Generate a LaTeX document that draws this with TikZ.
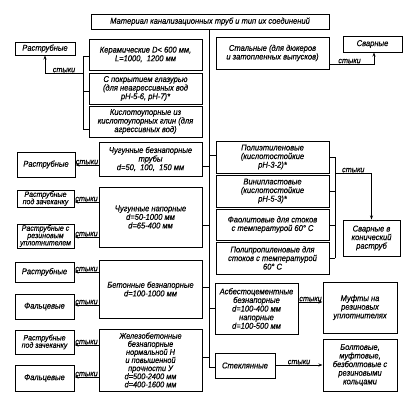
\documentclass[tikz,border=0pt]{standalone}
\usepackage{fontspec}
\setmainfont{Liberation Sans}[FakeStretch=0.9,FakeBold=0.3]
\usetikzlibrary{arrows.meta}
\begin{document}
\begin{tikzpicture}[x=1pt,y=-1pt,
  box/.style={draw, line width=1pt, inner sep=0.3pt, align=center,
    font=\fontsize{8.4}{8.6}\selectfont\itshape},
  tight/.style={font=\fontsize{7.8}{7.3}\selectfont\itshape},
  dense/.style={font=\fontsize{8.2}{8.1}\selectfont\itshape},
  conn/.style={line width=0.8pt},
  arr/.style={line width=0.8pt, -{Stealth[length=4pt,width=3pt]}},
  lbl/.style={font=\fontsize{8}{8}\selectfont\itshape, inner sep=0.3pt, anchor=south}]
\useasboundingbox (0,0) rectangle (409,405);
% nodes
\node[box, minimum width=238pt, minimum height=15pt] (top) at (210,21.5) {Материал канализационных труб и тип их соединений};
\node[box, minimum width=60pt, minimum height=13pt] (rast1) at (45,48.5) {Раструбные};
\node[box, minimum width=113pt, minimum height=31pt] (ker) at (145.5,54.5) {Керамические D< 600 мм,\\L=1000, \ 1200 мм};
\node[box, minimum width=113pt, minimum height=31pt] (pokr) at (145.5,88.5) {С покрытием глазурью\\(для неагрессивных вод\\pH-5-6, pH-7)*};
\node[box, minimum width=113pt, minimum height=31pt] (kisl) at (145.5,121.5) {Кислотоупорные из\\кислотоупорных глин (для\\агрессивных вод)};
\node[box, minimum width=113pt, minimum height=32pt] (stal) at (272.5,53) {Стальные (для дюкеров\\и затопленных выпусков)};
\node[box, minimum width=59pt, minimum height=16pt] (svar1) at (372.5,44) {Сварные};
\node[box, minimum width=103pt, minimum height=34pt] (chb) at (150.5,159) {Чугунные безнапорные\\трубы\\d=50, \ 100, \ 150 мм};
\node[box, minimum width=58pt, minimum height=25pt] (rast2) at (46,164.5) {Раструбные};
\node[box, minimum width=103pt, minimum height=60pt] (chn) at (150.5,217) {Чугунные напорные\\d=50-1000 мм\\d=65-400 мм};
\node[box, tight, minimum width=57pt, minimum height=17pt] (rz1) at (45.5,198.5) {Раструбные\\под зачеканку};
\node[box, tight, minimum width=57pt, minimum height=24pt] (rru) at (45.5,236) {Раструбные с\\резиновым\\уплотнителем};
\node[box, minimum width=103pt, minimum height=58pt] (bet) at (150.5,289) {Бетонные безнапорные\\d=100-1000 мм};
\node[box, minimum width=59pt, minimum height=20pt] (rast3) at (44.5,272) {Раструбные};
\node[box, minimum width=59pt, minimum height=25pt] (falc1) at (44.5,306.5) {Фальцевые};
\node[box, dense, minimum width=103pt, minimum height=62pt] (zhb) at (150.5,360) {Железобетонные\\безнапорные\\нормальной Н\\и повышенной\\прочности У\\d=500-2400 мм\\d=400-1600 мм};
\node[box, tight, minimum width=59pt, minimum height=24pt] (rz2) at (44.5,342) {Раструбные\\под зачеканку};
\node[box, minimum width=59pt, minimum height=26pt] (falc2) at (44.5,378) {Фальцевые};
\node[box, minimum width=113pt, minimum height=32pt] (poly) at (272.5,157) {Полиэтиленовые\\(кислотостойкие\\pH-3-2)*};
\node[box, minimum width=113pt, minimum height=32pt] (vin) at (272.5,191) {Винипластовые\\(кислотостойкие\\pH-5-3)*};
\node[box, minimum width=113pt, minimum height=31pt] (fao) at (272.5,224.5) {Фаолитовые для стоков\\с температурой 60° С};
\node[box, minimum width=113pt, minimum height=32pt] (polip) at (272.5,258) {Полипропиленовые для\\стоков с температурой\\60° С};
\node[box, minimum width=57pt, minimum height=36pt] (svk) at (371.5,238) {Сварные в\\конический\\раструб};
\node[box, minimum width=83pt, minimum height=51pt] (asb) at (256.5,308.5) {Асбестоцементные\\безнапорные\\d=100-400 мм\\напорные\\d=100-500 мм};
\node[box, minimum width=74pt, minimum height=51pt] (muft) at (360,307.5) {Муфты на\\резиновых\\уплотнителях};
\node[box, minimum width=60pt, minimum height=25pt] (stek) at (245,365.5) {Стеклянные};
\node[box, minimum width=74pt, minimum height=52pt] (bolt) at (360,365) {Болтовые,\\муфтовые,\\безболтовые с\\резиновыми\\кольцами};
% coordinates
\coordinate (trT) at (209,29);
\coordinate (trB) at (209,367);
\coordinate (bl) at (83,73);
\coordinate (blT) at (83,56);
\coordinate (blB) at (83,129);
\coordinate (br) at (335,173);
\coordinate (brT) at (335,157);
\coordinate (brB) at (335,258);
% trunk
\draw[conn] (top.south -| trT) -- (trB);
\draw[conn] (chb.east |- 0,166) -- (trT |- 0,166);
\draw[conn] (chn.east |- 0,225) -- (trT |- 0,225);
\draw[conn] (bet.east |- 0,287) -- (trT |- 0,287);
\draw[conn] (zhb.east |- 0,357) -- (trT |- 0,357);
\draw[conn] (poly.west |- 0,155) -- (trT |- 0,155);
\draw[conn] (asb.west |- 0,308) -- (trT |- 0,308);
\draw[conn] (stek.west |- 0,367) -- (trB);
% ceramic bracket
\draw[conn] (blT) -- (blB);
\draw[conn] (ker.west |- blT) -- (blT);
\draw[conn] (pokr.west |- 0,91) -- (bl |- 0,91);
\draw[conn] (kisl.west |- blB) -- (blB);
\draw[arr] (bl) -- node[lbl, pos=0.5]{стыки} (rast1.south |- bl) -- (rast1.south);
% steel
\draw[arr] (stal.east |- 0,64) -- node[lbl, pos=0.45]{стыки} (374,64) -- (svar1.south -| 374,0);
% plastics bracket
\draw[conn] (brT) -- (brB);
\draw[conn] (poly.east |- brT) -- (brT);
\draw[conn] (vin.east |- 0,191) -- (br |- 0,191);
\draw[conn] (fao.east |- 0,225) -- (br |- 0,225);
\draw[conn] (polip.east |- brB) -- (brB);
\draw[arr] (br) -- node[lbl, pos=0.5]{стыки} (svk.north |- br) -- (svk.north);
% left arrows
\draw[arr] (chb.west |- 0,165) -- node[lbl]{стыки} (rast2.east |- 0,165);
\draw[arr] (chn.west |- 0,202) -- node[lbl]{стыки} (rz1.east |- 0,202);
\draw[arr] (chn.west |- 0,237) -- node[lbl]{стыки} (rru.east |- 0,237);
\draw[arr] (bet.west |- 0,272) -- node[lbl]{стыки} (rast3.east |- 0,272);
\draw[arr] (bet.west |- 0,305) -- node[lbl]{стыки} (falc1.east |- 0,305);
\draw[arr] (zhb.west |- 0,345) -- node[lbl]{стыки} (rz2.east |- 0,345);
\draw[arr] (zhb.west |- 0,377) -- node[lbl]{стыки} (falc2.east |- 0,377);
% right arrows
\draw[arr] (asb.east |- 0,302) -- node[lbl]{стыки} (muft.west |- 0,302);
\draw[arr] (stek.east |- 0,365) -- node[lbl]{стыки} (bolt.west |- 0,365);
\end{tikzpicture}
\end{document}
